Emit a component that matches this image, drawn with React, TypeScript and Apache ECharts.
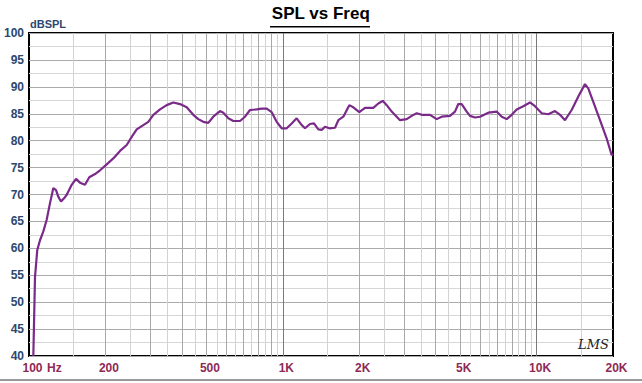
import React, { useEffect, useRef } from "react";
import * as echarts from "echarts";

const FREQ = [
  104, 105.6, 107.8, 110.5, 113.8, 117.4, 121, 124.7, 127.8, 130.4, 133.7, 138.6, 141, 147.3,
  153.2, 158.8, 166.2, 172.8, 182, 190.5, 202.4, 214.8, 228.4, 242.7, 253.9, 265.7, 282, 295.2,
  309, 328.3, 348.8, 370.4, 393.6, 418.1, 444, 464.6, 486.1, 508.6, 532.2, 565.5, 583, 610.1,
  638.3, 678.3, 709.8, 742.7, 789.2, 825.8, 864.1, 904.2, 946.2, 990, 1036, 1084, 1134, 1187,
  1223, 1280, 1327, 1380, 1423, 1467, 1525, 1606, 1655, 1732, 1828, 1896, 2002, 2108, 2273,
  2379, 2476, 2567, 2686, 2896, 3077, 3220, 3370, 3527, 3802, 4040, 4227, 4558, 4770, 4915,
  5069, 5304, 5466, 5720, 5984, 6452, 6963, 7288, 7625, 7979, 8348, 8863, 9419, 9856, 10474,
  11120, 11816, 12368, 12940, 13747, 14600, 15510, 15980, 16725, 17775, 18890, 19766, 20000,
];
const SPL = [
  40, 54.7, 59.7, 61.5, 63.1, 65.3, 68.4, 71.2, 70.8, 69.6, 68.7, 69.5, 70.0, 71.8,
  72.9, 72.2, 71.8, 73.2, 73.8, 74.5, 75.6, 76.7, 78.1, 79.2, 80.7, 82.1, 82.9, 83.5,
  84.8, 85.8, 86.6, 87.1, 86.8, 86.2, 84.8, 84.0, 83.5, 83.3, 84.45, 85.5, 85.2, 84.15,
  83.65, 83.65, 84.45, 85.7, 85.8, 85.95, 85.95, 85.3, 83.5, 82.3, 82.3, 83.2, 84.15, 82.9,
  82.3, 83.1, 83.2, 82.1, 82.0, 82.6, 82.3, 82.4, 83.8, 84.45, 86.6, 86.2, 85.3, 86.1, 86.1,
  86.9, 87.4, 86.6, 85.4, 83.8, 84.0, 84.6, 85.1, 84.8, 84.8, 84.0, 84.45, 84.6, 85.4, 86.8,
  86.8, 85.4, 84.6, 84.3, 84.45, 85.2, 85.4, 84.45, 84.0, 84.8, 85.8, 86.4, 87.1, 86.4, 85.1,
  84.9, 85.5, 84.8, 83.8, 85.7, 88.2, 90.5, 89.7, 87.2, 83.8, 80.4, 77.3, 77.6,
];

const X_LABEL_FREQS = [100, 200, 500, 1000, 2000, 5000, 10000, 20000];
const X_LABEL_TEXTS = ["100", "200", "500", "1K", "2K", "5K", "10K", "20K"];

const GRID_DECADE = [1000, 10000];
const GRID_MAJOR = [200, 300, 400, 500, 600, 700, 800, 900, 2000, 3000, 4000, 5000, 6000, 7000, 8000, 9000];
const GRID_MINOR = [
  150, 250, 350, 450, 550, 650, 750, 850, 950,
  1500, 2500, 3500, 4500, 5500, 6500, 7500, 8500, 9500, 15000,
];

const Y_MIN = 40;
const Y_MAX = 100;
const Y_STEP = 5;

const LABEL_FONT = "'Liberation Sans', Arial, sans-serif";
const X_COLOR = "#8e2a57";
const Y_COLOR = "#2b4870";
const CURVE_COLOR = "#7a2a88";

function gridSeries(freqs: number[], color: string, name: string) {
  return {
    name,
    type: "line",
    data: [],
    silent: true,
    z: 1,
    markLine: {
      silent: true,
      symbol: "none",
      z: 1,
      label: { show: false },
      emphasis: { disabled: true },
      lineStyle: { color, width: 1, type: "solid" },
      data: freqs.map((f) => ({ xAxis: f })),
    },
  };
}

export default function App() {
  const ref = useRef<HTMLDivElement>(null);
  useEffect(() => {
    if (!ref.current) return;
    const chart = echarts.init(ref.current, undefined, { renderer: "svg" });
    const labelMap: Record<number, string> = {};
    X_LABEL_FREQS.forEach((f, i) => (labelMap[f] = X_LABEL_TEXTS[i]));
    chart.setOption({
      animation: false,
      backgroundColor: "#ffffff",
      grid: {
        left: 29,
        right: 29,
        top: 33,
        bottom: 27,
        show: true,
        borderColor: "#000",
        borderWidth: 2,
        backgroundColor: "#fff",
        z: 0,
      },
      xAxis: {
        type: "log",
        logBase: 10,
        min: 100,
        max: 20000,
        axisLine: { show: false },
        axisTick: { show: false },
        splitLine: { show: false },
        minorTick: { show: false },
        minorSplitLine: { show: false },
        axisLabel: {
          customValues: X_LABEL_FREQS,
          formatter: (v: number) => labelMap[Math.round(v)] ?? "",
          color: X_COLOR,
          fontWeight: "bold",
          fontSize: 12,
          fontFamily: LABEL_FONT,
          margin: 6,
          padding: [0, 0, 0, 7],
          showMinLabel: true,
          showMaxLabel: true,
        },
      },
      yAxis: {
        type: "value",
        min: Y_MIN,
        max: Y_MAX,
        interval: Y_STEP,
        axisLine: { show: false },
        axisTick: { show: false },
        splitLine: { show: true, lineStyle: { color: "#ababab", width: 1 } },
        minorTick: { show: false, splitNumber: 2 },
        minorSplitLine: { show: true, lineStyle: { color: "#d6d6d6", width: 1 } },
        axisLabel: {
          color: Y_COLOR,
          fontWeight: "bold",
          fontSize: 12,
          fontFamily: LABEL_FONT,
          margin: 5,
        },
      },
      series: [
        gridSeries(GRID_MINOR, "#d2d2d2", "minor"),
        gridSeries(GRID_MAJOR, "#a8a8a8", "major"),
        gridSeries(GRID_DECADE, "#7a7a7a", "decade"),
        {
          name: "SPL",
          type: "line",
          data: FREQ.map((f, i) => [f, SPL[i]]),
          showSymbol: false,
          symbol: "none",
          z: 10,
          lineStyle: { color: CURVE_COLOR, width: 2.2 },
          emphasis: { disabled: true },
          clip: true,
        },
      ],
      graphic: [
        {
          type: "text",
          left: "center",
          top: 5,
          style: {
            text: "SPL vs Freq",
            fill: "#000",
            font: "bold 17px " + LABEL_FONT,
          },
        },
        {
          type: "rect",
          shape: { x: 270, y: 26, width: 100, height: 1.5 },
          style: { fill: "#000" },
        },
        {
          type: "text",
          x: 30,
          y: 18,
          style: {
            text: "dBSPL",
            fill: Y_COLOR,
            font: "bold 11px " + LABEL_FONT,
          },
        },
        {
          type: "text",
          x: 47,
          y: 362,
          style: {
            text: "Hz",
            fill: X_COLOR,
            font: "bold 12px " + LABEL_FONT,
          },
        },
        {
          type: "text",
          x: 578,
          y: 338,
          z: 20,
          style: {
            text: "LMS",
            fill: "#222",
            font: "italic 13px 'DejaVu Serif', serif",
          },
        },
        {
          type: "rect",
          shape: { x: 0, y: 379, width: 642, height: 2 },
          style: { fill: "#9a9a9a" },
        },
      ],
    });
    return () => chart.dispose();
  }, []);
  return (
    <div
      ref={ref}
      style={{ position: "fixed", left: 0, top: 0, width: 642, height: 383, background: "#fff" }}
    />
  );
}
